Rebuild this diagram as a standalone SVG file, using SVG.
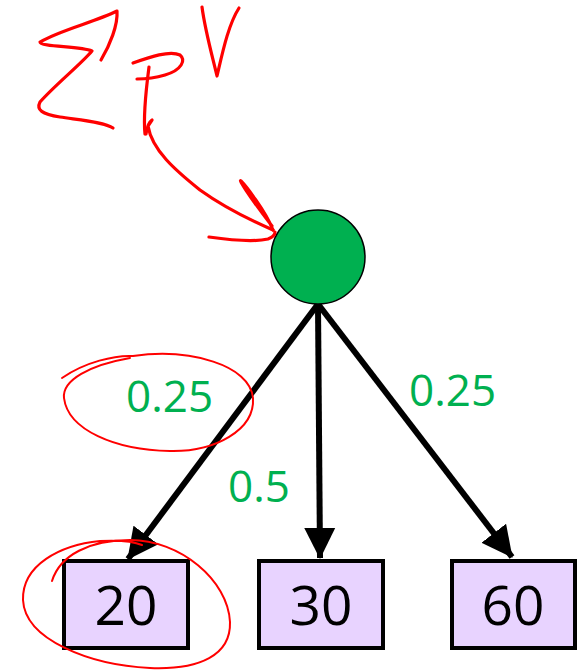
<svg xmlns="http://www.w3.org/2000/svg" width="582" height="671" viewBox="0 0 582 671">
<style>
.box{fill:#E8D3FF;stroke:#000;stroke-width:4}
.num{font-family:"Open Sans","Liberation Sans",Arial,sans-serif;font-size:55px;fill:#000;text-anchor:middle}
.lbl{font-family:"Open Sans","Liberation Sans",Arial,sans-serif;font-size:44px;fill:#00B050}
.edge{stroke:#000;stroke-width:6;fill:none}
.ink{stroke:#FF0000;fill:none;stroke-linecap:round;stroke-linejoin:round}
</style>
<defs>
<marker id="ah" markerUnits="userSpaceOnUse" markerWidth="32" markerHeight="32" refX="30" refY="16" orient="auto" viewBox="0 0 32 32">
<path d="M0,0.5 L31,16 L0,31.5 Z" fill="#000"/>
</marker>
</defs>
<rect width="582" height="671" fill="#fff"/>
<g id="connectors">
<line class="edge" x1="318" y1="304" x2="128" y2="559" marker-end="url(#ah)"/>
<line class="edge" x1="318" y1="304" x2="320" y2="558" marker-end="url(#ah)"/>
<line class="edge" x1="318" y1="304" x2="512" y2="557" marker-end="url(#ah)"/>
</g>
<g id="root">
<circle cx="318" cy="257" r="47" fill="#00B050" stroke="#000" stroke-width="1.5"/>
</g>
<g id="leaf20">
<rect class="box" x="64" y="561" width="124" height="87"/>
<text class="num" x="126" y="625">20</text>
</g>
<g id="leaf30">
<rect class="box" x="259" y="561" width="124" height="87"/>
<text class="num" x="321" y="625">30</text>
</g>
<g id="leaf60">
<rect class="box" x="452" y="561" width="123" height="87"/>
<text class="num" x="513" y="625">60</text>
</g>
<g id="labels">
<text class="lbl" x="126" y="412">0.25</text>
<text class="lbl" x="228" y="502">0.5</text>
<text class="lbl" x="409" y="406">0.25</text>
</g>
<g id="annotations">
<path class="ink" stroke-width="3.2" d="M101,60 C110,45 118,25 117,11 C95,22 60,30 40,42 C40,47 80,46 92,51 C80,65 55,85 40,102 C36,110 42,114 60,117 C80,120 105,122 113,128"/>
<path class="ink" stroke-width="3.2" d="M133,63 C150,57 170,50 180,55 C186,60 182,70 165,75 C155,78 145,79 137,79"/>
<path class="ink" stroke-width="3.2" d="M149,67 C146,90 143,115 145,134"/>
<path class="ink" stroke-width="3.2" d="M202,7 C205,30 212,55 217,76 C222,55 228,25 239,8"/>
<path class="ink" stroke-width="3.2" d="M146,134 C147,127 149,122 152,120 L148,126 C152,150 175,170 200,190 C225,208 250,220 273,230"/>
<path class="ink" stroke-width="3.2" d="M273,230 C265,210 245,185 241,181 C238,178 248,195 272,226"/>
<path class="ink" stroke-width="3.2" d="M209,237 C230,240 255,242 268,239 C273,237 275,235 275,232"/>
<path class="ink" stroke-width="2" d="M62,378 C85,362 115,355 133,356 C190,348 250,365 253,398 C255,430 215,452 170,451 C115,450 68,430 64,398 C62,380 90,365 130,358"/>
<path class="ink" stroke-width="2" d="M52,581 C60,555 90,540 130,540 C180,540 228,580 230,622 C231,655 200,670 150,668 C90,665 25,640 23,600 C22,565 60,545 100,541 C120,540 135,542 142,545"/>
</g>
</svg>
